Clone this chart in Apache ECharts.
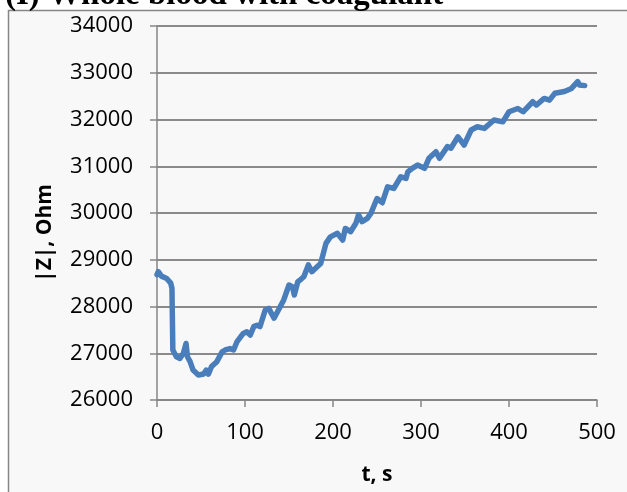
<!DOCTYPE html>
<html>
<head>
<meta charset="utf-8">
<style>html,body{margin:0;padding:0;background:#fff;}#c{width:627px;height:492px;}</style>
<script src="https://cdn.jsdelivr.net/npm/echarts@6/dist/echarts.min.js"></script>
</head>
<body>
<div id="c"></div>
<script>
const titleText = '(I) Whole blood with coagulant';
const xName = 't, s';
const yName = '|Z|, Ohm';
const tSec = [0, 1.5, 5, 11, 15.6, 17, 18, 22, 26, 30, 33, 34.6, 37.6, 41, 47, 53, 56, 58.5, 62, 68, 74, 77.5, 83, 87, 91, 95, 98, 102, 106, 110, 113.6, 117, 123, 127, 133, 138, 144, 150, 154, 156, 160, 163, 167, 172, 176, 182, 186, 192, 197, 205, 211, 214, 220, 226, 229, 233, 239, 243, 250, 256, 262, 269, 277, 283, 285, 290, 296, 304, 309, 317, 321, 330, 334, 342, 349, 357, 364, 372, 383, 393, 400, 410, 416, 427, 431, 440, 446, 452, 463, 471, 478, 480, 486];
const zOhm = [28680, 28745, 28650, 28600, 28500, 28390, 27070, 26925, 26890, 27000, 27210, 26925, 26820, 26640, 26535, 26555, 26640, 26555, 26715, 26820, 27030, 27070, 27100, 27070, 27250, 27350, 27425, 27460, 27390, 27570, 27600, 27570, 27925, 27960, 27750, 27925, 28140, 28460, 28420, 28245, 28530, 28570, 28640, 28890, 28745, 28850, 28920, 29350, 29490, 29565, 29420, 29670, 29600, 29780, 29960, 29815, 29885, 29990, 30310, 30220, 30560, 30525, 30775, 30740, 30880, 30955, 31025, 30955, 31170, 31310, 31170, 31420, 31385, 31630, 31455, 31775, 31845, 31810, 31990, 31950, 32165, 32235, 32165, 32380, 32310, 32450, 32415, 32560, 32600, 32665, 32810, 32740, 32725];

const chart = echarts.init(document.getElementById('c'));
const labelFont = {color: '#000', fontFamily: 'Open Sans', fontSize: 22};
chart.setOption({
  backgroundColor: '#ffffff',
  animation: false,
  graphic: [
    {type: 'rect', z: -10, shape: {x: 8.5, y: 10.5, width: 700, height: 600},
     style: {fill: '#f8f8f8', stroke: '#868686', lineWidth: 1.5}},
    {type: 'text', z: 10, left: 5, top: -21,
     style: {text: titleText, fill: '#000', font: 'bold 33px "Liberation Serif"'}},
    {type: 'text', z: 10, x: 45, y: 233, rotation: Math.PI / 2,
     style: {text: yName, fill: '#000', font: 'bold 21px "Open Sans"', align: 'center', verticalAlign: 'middle'}}
  ],
  grid: {left: 157, right: 30, top: 26, bottom: 92, containLabel: false},
  xAxis: {
    type: 'value', min: 0, max: 500, interval: 100,
    name: xName, nameLocation: 'middle', nameGap: 65,
    nameTextStyle: {color: '#000', fontFamily: 'Open Sans', fontSize: 21, fontWeight: 'bold'},
    axisLine: {show: true, lineStyle: {color: '#868686', width: 1.5}},
    axisTick: {show: true, length: 7, lineStyle: {color: '#868686', width: 1.5}},
    axisLabel: Object.assign({margin: 22, formatter: v => String(v)}, labelFont),
    splitLine: {show: false}
  },
  yAxis: {
    type: 'value', min: 26000, max: 34000, interval: 1000,
    axisLine: {show: true, lineStyle: {color: '#868686', width: 1.5}},
    axisTick: {show: true, length: 7, lineStyle: {color: '#868686', width: 1.5}},
    axisLabel: Object.assign({margin: 24, formatter: v => String(v)}, labelFont),
    splitLine: {show: true, lineStyle: {color: '#8a8a8a', width: 2}}
  },
  series: [{
    type: 'line',
    data: tSec.map((t, i) => [t, zOhm[i]]),
    showSymbol: false, symbol: 'none',
    lineStyle: {color: '#4a7ebb', width: 5.5, cap: 'round', join: 'round'},
    itemStyle: {color: '#4a7ebb'}
  }]
});
</script>
</body>
</html>
